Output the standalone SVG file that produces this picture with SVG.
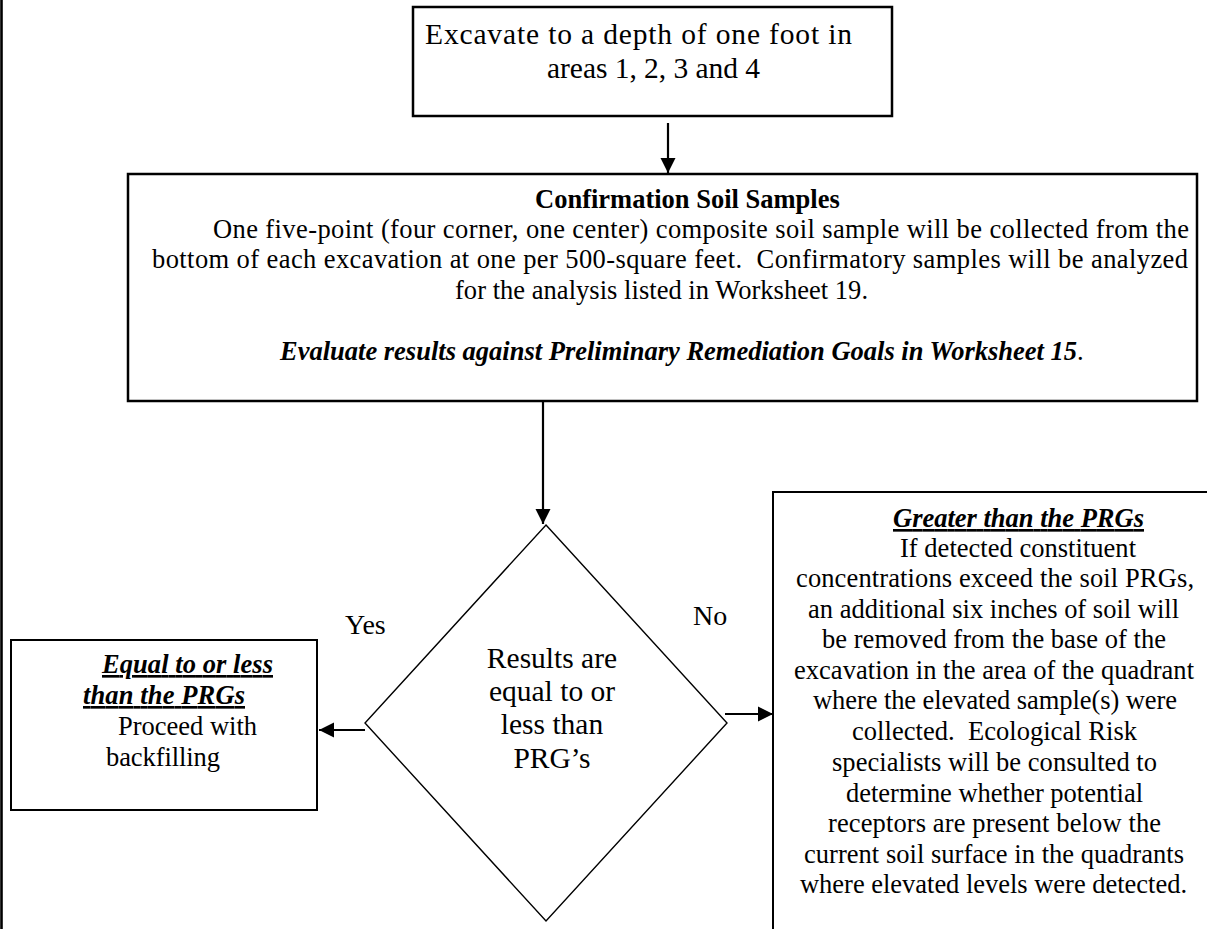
<svg xmlns="http://www.w3.org/2000/svg" width="1207" height="929" viewBox="0 0 1207 929">
<style>
.box{fill:#fff;stroke:#000;stroke-width:2.5}
.thin{fill:#fff;stroke:#000;stroke-width:2}
.dia{fill:#fff;stroke:#000;stroke-width:1.4}
.conn{fill:none;stroke:#000;stroke-width:2.2}
text{font-family:"Liberation Serif","Times New Roman",serif;fill:#000}
.t14{font-size:29.5px}
.t12{font-size:26.5px}
.b{font-weight:bold}
.bi{font-weight:bold;font-style:italic}
.u{text-decoration:underline}
.pre{white-space:pre}
</style>
<defs>
<marker id="arr" markerUnits="userSpaceOnUse" markerWidth="16" markerHeight="16" viewBox="0 0 16 16" refX="15" refY="8" orient="auto">
<path d="M0,0.5 L15,8 L0,15.5 Z" fill="#000"/>
</marker>
</defs>
<rect width="1207" height="929" fill="#fff"/>
<line x1="1.5" y1="0" x2="1.5" y2="929" stroke="#000" stroke-width="2.6"/>

<g id="excavate">
<rect class="box" x="413" y="7" width="479" height="109"/>
<text class="t14" x="425" y="44" textLength="427">Excavate to a depth of one foot in</text>
<text class="t14" x="547" y="78" textLength="213">areas 1, 2, 3 and 4</text>
</g>

<g id="confirmation">
<rect class="box" x="128" y="174" width="1069" height="227"/>
<text class="t12 b" x="535" y="208">Confirmation Soil Samples</text>
<text class="t12" x="213" y="238" textLength="976">One five-point (four corner, one center) composite soil sample will be collected from the</text>
<text class="t12 pre" x="152" y="268" textLength="1036">bottom of each excavation at one per 500-square feet.  Confirmatory samples will be analyzed</text>
<text class="t12" x="455" y="299" textLength="413">for the analysis listed in Worksheet 19.</text>
<text class="t12" x="280" y="360"><tspan class="bi">Evaluate results against Preliminary Remediation Goals in Worksheet 15</tspan>.</text>
</g>

<g id="decision">
<polygon class="dia" points="546,525 727,723 546,921 365,723"/>
<text class="t14" x="552" y="668" text-anchor="middle">Results are</text>
<text class="t14" x="552" y="701" text-anchor="middle">equal to or</text>
<text class="t14" x="552" y="734" text-anchor="middle">less than</text>
<text class="t14" x="552" y="768" text-anchor="middle">PRG’s</text>
</g>

<g id="less">
<rect class="thin" x="11" y="640" width="306" height="170"/>
<text class="t12 bi u" x="102" y="673" textLength="171">Equal to or less</text>
<text class="t12 bi u" x="83" y="704" textLength="162">than the PRGs</text>
<text class="t12" x="118" y="735" textLength="139">Proceed with</text>
<text class="t12" x="106" y="766" textLength="114">backfilling</text>
</g>

<g id="greater">
<rect class="thin" x="773" y="492" width="450" height="460"/>
<text class="t12 bi u" x="893" y="527" textLength="251">Greater than the PRGs</text>
<text class="t12" x="900" y="557" textLength="236">If detected constituent</text>
<text class="t12" x="796" y="587" textLength="398">concentrations exceed the soil PRGs,</text>
<text class="t12" x="808" y="618" textLength="371">an additional six inches of soil will</text>
<text class="t12" x="822" y="648" textLength="344">be removed from the base of the</text>
<text class="t12" x="794" y="679" textLength="400">excavation in the area of the quadrant</text>
<text class="t12" x="813" y="709" textLength="364">where the elevated sample(s) were</text>
<text class="t12 pre" x="852" y="740" textLength="285">collected.  Ecological Risk</text>
<text class="t12" x="832" y="771" textLength="325">specialists will be consulted to</text>
<text class="t12" x="846" y="802" textLength="297">determine whether potential</text>
<text class="t12" x="828" y="832" textLength="333">receptors are present below the</text>
<text class="t12" x="804" y="863" textLength="380">current soil surface in the quadrants</text>
<text class="t12" x="800" y="893" textLength="387">where elevated levels were detected.</text>
</g>

<g id="connectors">
<line class="conn" x1="668" y1="123" x2="668" y2="173" marker-end="url(#arr)"/>
<line class="conn" x1="543" y1="401" x2="543" y2="524" marker-end="url(#arr)"/>
<line class="conn" x1="365" y1="730" x2="319" y2="730" marker-end="url(#arr)"/>
<line class="conn" x1="725" y1="714" x2="773" y2="714" marker-end="url(#arr)"/>
<text class="t14" x="345" y="634" style="font-size:28px">Yes</text>
<text class="t14" x="693" y="625" style="font-size:28px">No</text>
</g>
</svg>
